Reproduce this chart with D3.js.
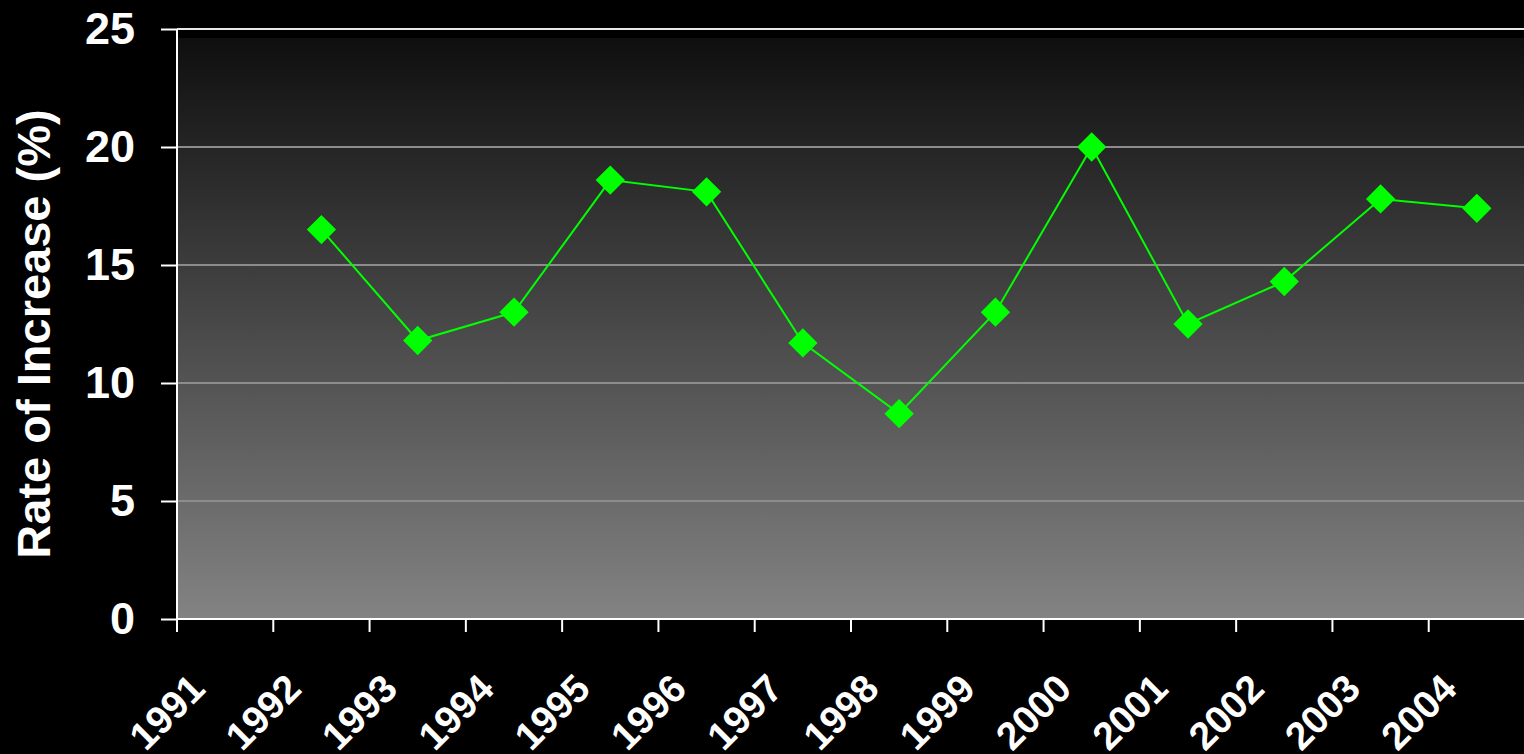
<!DOCTYPE html>
<html>
  <head>
    <meta charset="utf-8" />
    <title>rate of increase</title>
    <script src="https://d3js.org/d3.v7.min.js"></script>
    <style>
      body {
        margin: 0;
        background: #000;
      }
      text {
        font-family: "Liberation Sans", Arial, Helvetica, sans-serif;
        font-weight: bold;
        fill: #fff;
      }
    </style>
  </head>
  <body>

    <svg id="chart"></svg>

    <script>

      var years = ["1991", "1992", "1993", "1994", "1995", "1996", "1997",
                   "1998", "1999", "2000", "2001", "2002", "2003", "2004"];
      var rates = [null, 16.5, 11.8, 13.0, 18.6, 18.1, 11.7,
                   8.7, 13.0, 20.0, 12.5, 14.3, 17.8, 17.4];
      var yTicks = [0, 5, 10, 15, 20, 25];
      var yTitle = "Rate of Increase (%)";

      var width = 1524;
      var height = 754;
      var margin = { top: 29, right: -1, bottom: 135, left: 177 };

      var svg = d3.select("#chart")
        .attr("width", width)
        .attr("height", height);

      svg.append("rect")
        .attr("width", width)
        .attr("height", height)
        .attr("fill", "#000");

      var x = d3.scaleBand()
        .domain(years)
        .range([margin.left, width - margin.right])
        .padding(0);

      var y = d3.scaleLinear()
        .domain([0, 25])
        .range([height - margin.bottom, margin.top]);

      // plot background gradient
      var grad = svg.append("defs").append("linearGradient")
        .attr("id", "bg")
        .attr("x1", 0).attr("y1", 0)
        .attr("x2", 0).attr("y2", 1);
      grad.append("stop").attr("offset", "0%").attr("stop-color", "#000");
      grad.append("stop").attr("offset", "1.5%").attr("stop-color", "#000");
      grad.append("stop").attr("offset", "1.6%").attr("stop-color", "#0f0f0f");
      grad.append("stop").attr("offset", "100%").attr("stop-color", "#838383");

      svg.append("rect")
        .attr("x", margin.left)
        .attr("y", y(25))
        .attr("width", width - margin.left)
        .attr("height", y(0) - y(25))
        .attr("fill", "url(#bg)");

      // gridlines
      svg.append("g").selectAll("line")
        .data(yTicks.filter(function(d) { return d > 0 && d < 25; }))
        .enter().append("line")
        .attr("x1", margin.left)
        .attr("x2", width)
        .attr("y1", function(d) { return y(d); })
        .attr("y2", function(d) { return y(d); })
        .attr("stroke", "#8c8c8c")
        .attr("stroke-width", 2);

      svg.append("line")
        .attr("x1", margin.left)
        .attr("x2", width)
        .attr("y1", y(25))
        .attr("y2", y(25))
        .attr("stroke", "#e8e8e8")
        .attr("stroke-width", 2);

      // y axis
      var yAxis = d3.axisLeft(y)
        .tickValues(yTicks)
        .tickSize(16)
        .tickPadding(26);

      var gy = svg.append("g")
        .attr("transform", "translate(" + margin.left + ",0)")
        .call(yAxis);
      gy.select(".domain").remove();
      gy.selectAll(".tick line").attr("stroke", "#fff").attr("stroke-width", 2);
      gy.selectAll(".tick text")
        .attr("font-size", 45)
        .attr("fill", "#fff")
        .attr("font-family", "Liberation Sans, Arial, sans-serif")
        .attr("font-weight", "bold");

      svg.append("line")
        .attr("x1", margin.left).attr("x2", margin.left)
        .attr("y1", y(25)).attr("y2", y(0) + 13)
        .attr("stroke", "#fff")
        .attr("stroke-width", 2);

      // x axis
      svg.append("line")
        .attr("x1", margin.left).attr("x2", width)
        .attr("y1", y(0)).attr("y2", y(0))
        .attr("stroke", "#fff")
        .attr("stroke-width", 2);

      svg.append("g").selectAll("line")
        .data(years)
        .enter().append("line")
        .attr("x1", function(d) { return x(d); })
        .attr("x2", function(d) { return x(d); })
        .attr("y1", y(0))
        .attr("y2", y(0) + 13)
        .attr("stroke", "#fff")
        .attr("stroke-width", 2);

      svg.append("g").selectAll("text")
        .data(years)
        .enter().append("text")
        .attr("text-anchor", "end")
        .attr("font-size", 39)
        .attr("transform", function(d) {
          var cx = x(d) + x.bandwidth() / 2 - 18;
          return "translate(" + cx + "," + (y(0) + 72) + ") rotate(-45)";
        })
        .text(function(d) { return d; });

      // y title
      svg.append("text")
        .attr("text-anchor", "middle")
        .attr("font-size", 47)
        .attr("transform", "translate(50," + ((y(0) + y(25)) / 2 + 10) + ") rotate(-90)")
        .text(yTitle);

      // series
      var points = years.map(function(d, i) {
        return { year: d, value: rates[i] };
      });

      var line = d3.line()
        .defined(function(d) { return d.value != null; })
        .x(function(d) { return x(d.year) + x.bandwidth() / 2; })
        .y(function(d) { return y(d.value); });

      svg.append("path")
        .datum(points)
        .attr("d", line)
        .attr("fill", "none")
        .attr("stroke", "#00ff00")
        .attr("stroke-width", 2);

      var diamond = d3.symbol().type(d3.symbolSquare).size(430);

      svg.append("g").selectAll("path")
        .data(points.filter(function(d) { return d.value != null; }))
        .enter().append("path")
        .attr("d", diamond)
        .attr("fill", "#00ff00")
        .attr("transform", function(d) {
          return "translate(" + (x(d.year) + x.bandwidth() / 2) + "," + y(d.value) + ") rotate(45)";
        });

    </script>

  </body>
</html>
